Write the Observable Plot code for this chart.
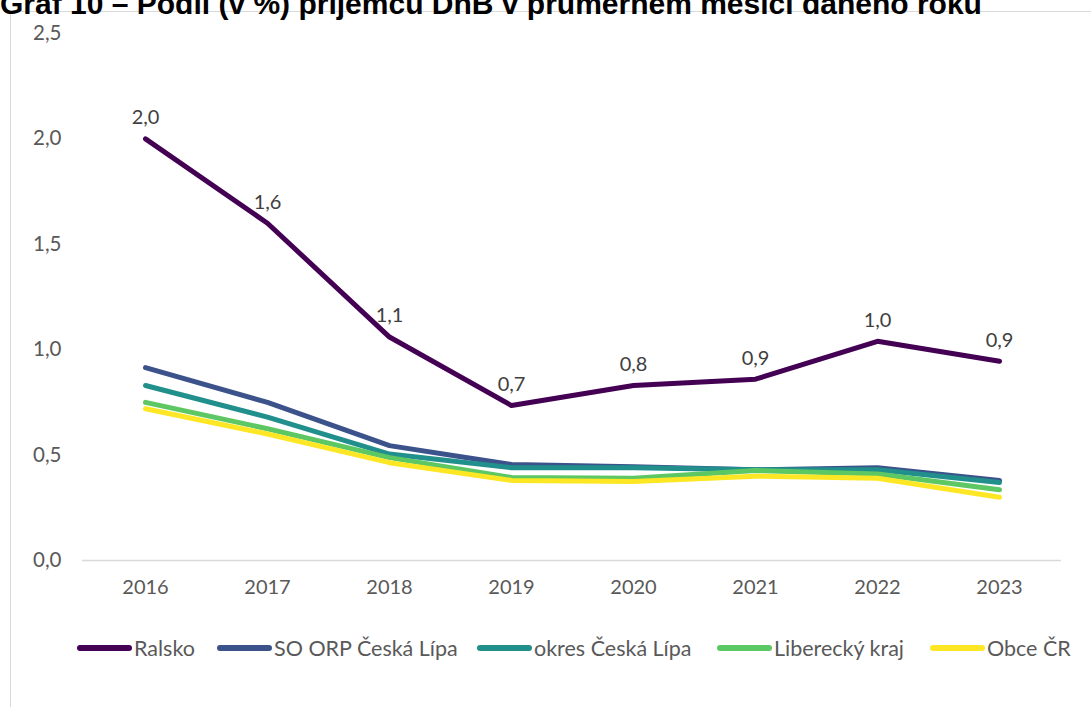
<!DOCTYPE html>
<html><head><meta charset="utf-8">
<script src="https://cdn.jsdelivr.net/npm/d3@7"></script>
<script src="https://cdn.jsdelivr.net/npm/@observablehq/plot@0.6"></script>
<style>
html,body{margin:0;padding:0;background:#fff;overflow:hidden;width:1091px;height:707px;}
#frame{position:absolute;left:10px;top:11px;width:1120px;height:740px;border:1px solid #d9d9d9;box-sizing:border-box;}
#title{position:absolute;left:0;top:-11px;font-family:"Liberation Sans",Arial,sans-serif;font-weight:bold;font-size:30px;line-height:29px;color:#000;white-space:nowrap;}
#chart{position:absolute;left:0;top:0;}
#legend{position:absolute;left:0;top:633px;width:1091px;height:30px;font-family:Lato,sans-serif;font-size:21.5px;color:#595959;white-space:nowrap;}
.item{position:absolute;top:0;display:flex;align-items:center;height:30px;}
.sw{width:55px;height:5.5px;border-radius:3px;margin-right:2px;}
</style></head>
<body>
<div id="frame"></div>
<div id="title">Graf 10 – Podíl (v %) příjemců DnB v průměrném měsíci daného roku</div>
<div id="chart"></div>
<div id="legend"></div>
<script>
const years = ["2016","2017","2018","2019","2020","2021","2022","2023"];
const seriesNames = ["Ralsko","SO ORP Česká Lípa","okres Česká Lípa","Liberecký kraj","Obce ČR"];
const seriesColors = ["#440154","#3B528B","#21908C","#5DC863","#FDE725"];
const ralsko    = [2.00, 1.60, 1.06, 0.735, 0.83, 0.86, 1.04, 0.945];
const soOrp     = [0.915, 0.75, 0.545, 0.455, 0.445, 0.43, 0.44, 0.38];
const okres     = [0.83, 0.68, 0.505, 0.44, 0.44, 0.43, 0.43, 0.37];
const liberecky = [0.75, 0.625, 0.488, 0.394, 0.39, 0.427, 0.41, 0.336];
const obce      = [0.72, 0.60, 0.464, 0.38, 0.375, 0.40, 0.39, 0.30];
const yTicks = [0, 0.5, 1.0, 1.5, 2.0, 2.5];
const legendLeft = [77, 217, 477, 717, 930];

const seriesValues = [ralsko, soOrp, okres, liberecky, obce];
const data = [];
seriesNames.forEach((name, i) => years.forEach((yr, j) => data.push({series: name, year: yr, value: seriesValues[i][j]})));
const ralskoData = data.filter(d => d.series === "Ralsko");
const fmt = v => v.toFixed(1).replace(".", ",");

const chart = Plot.plot({
  width: 1091,
  height: 600,
  marginLeft: 82,
  marginRight: 30,
  marginTop: 33,
  marginBottom: 40,
  style: {fontFamily: "Lato, sans-serif", background: "transparent", overflow: "visible"},
  x: {type: "band", domain: years, padding: 0, label: null},
  y: {domain: [0, 2.5], label: null},
  color: {domain: seriesNames, range: seriesColors},
  marks: [
    Plot.ruleY([0], {stroke: "#d9d9d9", strokeWidth: 1.5}),
    Plot.axisY({ticks: yTicks, tickSize: 0, tickPadding: 21, tickFormat: fmt, fontSize: 20.5, fill: "#595959", label: null}),
    Plot.axisX({tickSize: 0, tickPadding: 19, fontSize: 20, fill: "#595959", label: null}),
    Plot.line(data, {x: "year", y: "value", z: "series", stroke: "series", strokeWidth: 5, strokeLinecap: "round", strokeLinejoin: "round"}),
    Plot.text(ralskoData, {x: "year", y: "value", text: d => fmt(d.value), dy: -21, fontSize: 20, fill: "#404040"})
  ]
});
document.getElementById("chart").appendChild(chart);

const legend = document.getElementById("legend");
seriesNames.forEach((name, i) => {
  const item = document.createElement("div");
  item.className = "item";
  item.style.left = legendLeft[i] + "px";
  const sw = document.createElement("span");
  sw.className = "sw";
  sw.style.background = seriesColors[i];
  const t = document.createElement("span");
  t.textContent = name;
  item.appendChild(sw); item.appendChild(t);
  legend.appendChild(item);
});
</script>
</body></html>
